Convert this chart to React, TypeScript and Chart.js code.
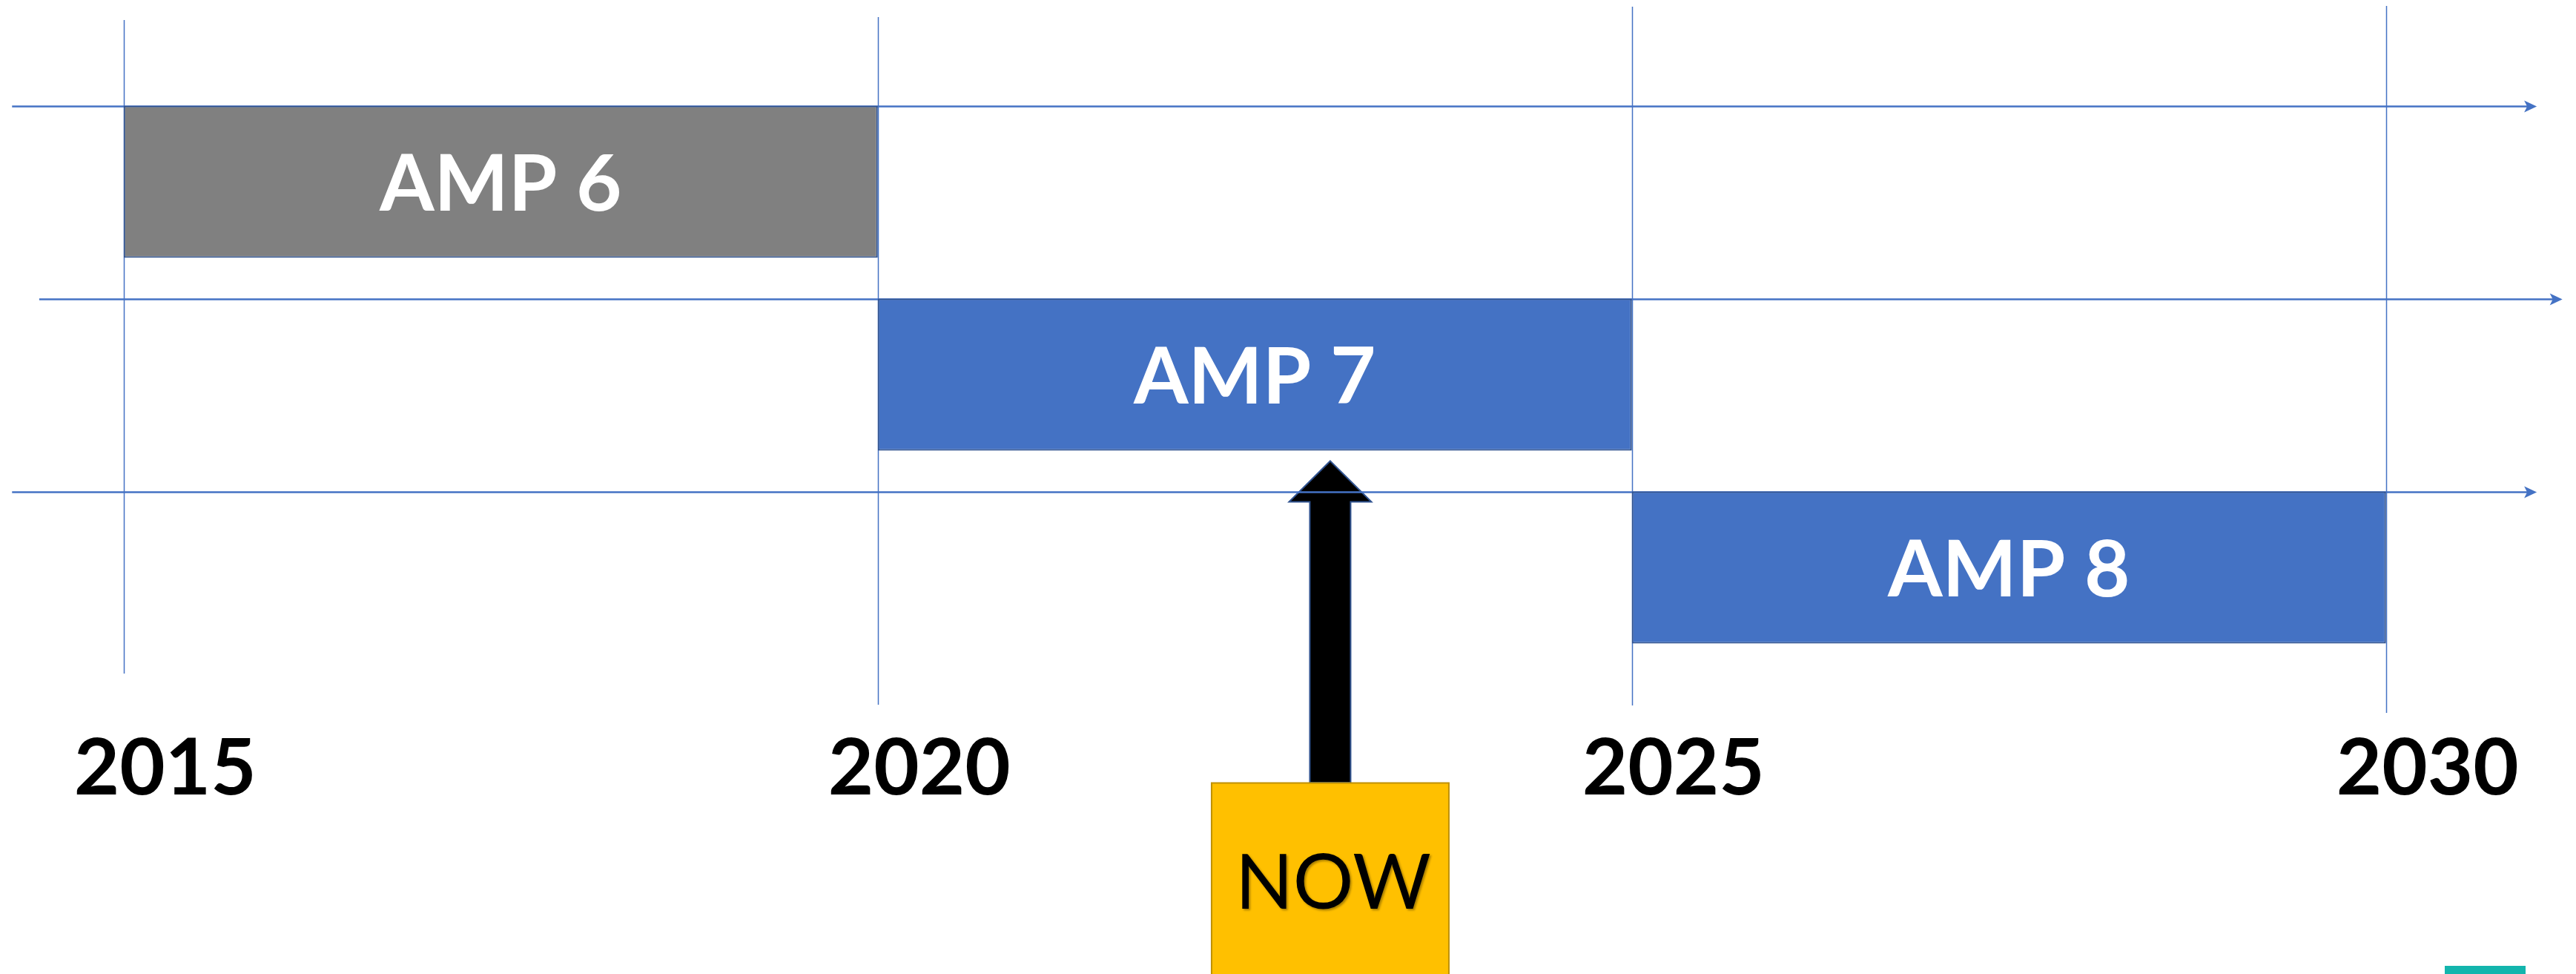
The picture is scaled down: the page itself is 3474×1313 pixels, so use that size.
import React, { useEffect, useRef } from "react";
import { Chart, registerables } from "chart.js";

Chart.register(...registerables);

// ---- data ----
const periods = ["AMP 6", "AMP 7", "AMP 8"];
const startYears = [2015, 2020, 2025];
const endYears = [2020, 2025, 2030];
const barColors = ["#808080", "#4472C4", "#4472C4"];
const yearTicks = [2015, 2020, 2025, 2030];
const nowYear = 2023;
const nowLabel = "NOW";
const xMin = 2014.18;
const xMax = 2031.26;
// timeline arrows per row (in years)
const timelineFrom = [2014.26, 2014.44, 2014.26];
const timelineTo = [2031.0, 2031.17, 2031.0];

const W = 3474;
const H = 1313;
const BLUE = "#4472C4";
const DARK_BLUE = "#2F528F";
const gridTop = [27, 23, 9, 8];
const gridBottom = [908, 950, 951, 961];

const decor = {
  id: "decor",
  beforeDatasetsDraw(chart: any) {
    const ctx = chart.ctx as CanvasRenderingContext2D;
    const xs = chart.scales.x;
    const meta = chart.getDatasetMeta(0);
    ctx.save();
    // vertical year lines
    ctx.strokeStyle = BLUE;
    ctx.lineWidth = 1.5;
    yearTicks.forEach((yr, i) => {
      const px = Math.round(xs.getPixelForValue(yr)) + 0.5;
      ctx.beginPath();
      ctx.moveTo(px, gridTop[i]);
      ctx.lineTo(px, gridBottom[i]);
      ctx.stroke();
    });
    // NOW arrow
    const ax = xs.getPixelForValue(nowYear);
    const b1 = meta.data[1];
    const tipY = b1.y + b1.height / 2 + 14;
    const headBase = tipY + 55;
    const boxTop = 1055;
    ctx.beginPath();
    ctx.moveTo(ax, tipY);
    ctx.lineTo(ax + 55.5, headBase);
    ctx.lineTo(ax + 27.5, headBase);
    ctx.lineTo(ax + 27.5, boxTop);
    ctx.lineTo(ax - 27.5, boxTop);
    ctx.lineTo(ax - 27.5, headBase);
    ctx.lineTo(ax - 55.5, headBase);
    ctx.closePath();
    ctx.fillStyle = "#000000";
    ctx.fill();
    ctx.strokeStyle = DARK_BLUE;
    ctx.lineWidth = 2;
    ctx.stroke();
    // timeline arrows
    meta.data.forEach((bar: any, i: number) => {
      const y = Math.round(bar.y - bar.height / 2) + 0.5;
      const x0 = xs.getPixelForValue(timelineFrom[i]);
      const x1 = xs.getPixelForValue(timelineTo[i]);
      ctx.strokeStyle = BLUE;
      ctx.lineWidth = 2.5;
      ctx.beginPath();
      ctx.moveTo(x0, y);
      ctx.lineTo(x1 - 12, y);
      ctx.stroke();
      ctx.fillStyle = BLUE;
      ctx.beginPath();
      ctx.moveTo(x1, y);
      ctx.lineTo(x1 - 17, y - 8);
      ctx.lineTo(x1 - 13, y);
      ctx.lineTo(x1 - 17, y + 8);
      ctx.closePath();
      ctx.fill();
    });
    ctx.restore();
  },
  afterDatasetsDraw(chart: any) {
    const ctx = chart.ctx as CanvasRenderingContext2D;
    const xs = chart.scales.x;
    const meta = chart.getDatasetMeta(0);
    ctx.save();
    // bar labels
    ctx.fillStyle = "#FFFFFF";
    ctx.font = "bold 106px Lato";
    ctx.textAlign = "center";
    ctx.textBaseline = "alphabetic";
    meta.data.forEach((bar: any, i: number) => {
      const cx = (bar.x + bar.base) / 2;
      ctx.fillText(periods[i], cx, bar.y + 39);
    });
    // NOW box
    const ax = xs.getPixelForValue(nowYear);
    const boxTop = 1055.5;
    ctx.fillStyle = "#FFC000";
    ctx.fillRect(ax - 160, boxTop, 320, H - boxTop + 10);
    ctx.strokeStyle = "#BF9000";
    ctx.lineWidth = 2;
    ctx.strokeRect(ax - 160, boxTop, 320, H - boxTop + 10);
    ctx.shadowColor = "rgba(0,0,0,0.35)";
    ctx.shadowOffsetX = 2;
    ctx.shadowOffsetY = 2;
    ctx.shadowBlur = 3;
    ctx.fillStyle = "#000000";
    ctx.font = "400 102px Lato";
    ctx.fillText(nowLabel, ax + 4, 1225);
    ctx.shadowColor = "transparent";
    // teal corner mark
    ctx.fillStyle = "#13B5AD";
    ctx.fillRect(3297, 1302, 109, 12);
    ctx.restore();
  },
};

export default function App() {
  const ref = useRef<HTMLCanvasElement | null>(null);
  useEffect(() => {
    if (!ref.current) return;
    const chart = new Chart(ref.current, {
      type: "bar",
      data: {
        labels: periods,
        datasets: [
          {
            data: startYears.map((s, i) => [s, endYears[i]]) as any,
            backgroundColor: barColors,
            borderColor: DARK_BLUE,
            borderWidth: 2,
            borderSkipped: false,
            barPercentage: 0.788,
            categoryPercentage: 1,
          },
        ],
      },
      options: {
        indexAxis: "y",
        responsive: false,
        animation: false,
        events: [],
        layout: { padding: { top: 115, bottom: 0, left: 0, right: 0 } },
        plugins: { legend: { display: false }, tooltip: { enabled: false } },
        scales: {
          y: { display: false },
          x: {
            type: "linear",
            min: xMin,
            max: xMax,
            grid: { display: false, drawTicks: false },
            border: { display: false },
            afterBuildTicks: (s: any) => {
              s.ticks = yearTicks.map((v) => ({ value: v }));
            },
            afterFit: (s: any) => {
              s.height = 418;
              s.paddingLeft = 0;
              s.paddingRight = 0;
            },
            ticks: {
              autoSkip: false,
              maxRotation: 0,
              minRotation: 0,
              padding: 78,
              labelOffset: 56,
              color: "#000000",
              font: { family: "Lato", weight: "bold", size: 106 },
              callback: (v: any) => String(v),
            },
          },
        },
      },
      plugins: [decor],
    });
    let alive = true;
    if ((document as any).fonts) {
      Promise.all([
        (document as any).fonts.load("bold 106px Lato"),
        (document as any).fonts.load("400 102px Lato"),
      ]).then(() => {
        if (alive) chart.update();
      });
    }
    return () => {
      alive = false;
      chart.destroy();
    };
  }, []);
  return (
    <div style={{ position: "fixed", left: 0, top: 0, width: W, height: H, background: "#ffffff" }}>
      <canvas ref={ref} width={W} height={H} style={{ display: "block", width: W, height: H }} />
    </div>
  );
}
